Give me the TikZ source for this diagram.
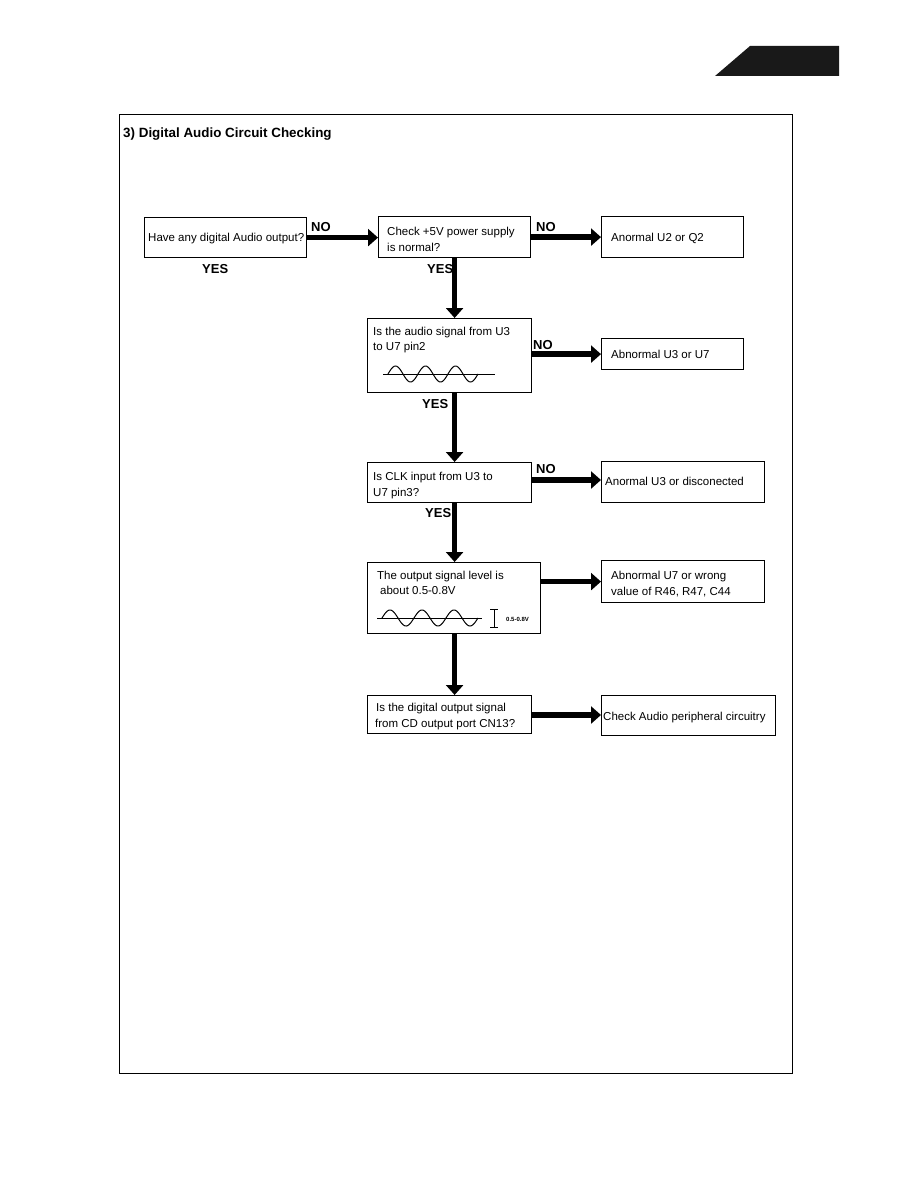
\documentclass[tikz,border=0pt]{standalone}
\usepackage{fontspec}
\setmainfont{Liberation Sans}
\usetikzlibrary{arrows.meta}
\begin{document}
\begin{tikzpicture}[x=1pt,y=-1pt,
  box/.style={draw,line width=1.2pt,inner sep=0pt,anchor=north west},
  txt/.style={anchor=base west,inner sep=0pt,font=\fontsize{11.5}{13}\selectfont},
  lbl/.style={anchor=base west,inner sep=0pt,font=\fontsize{13}{14}\selectfont\bfseries},
  arr/.style={line width=5.5pt,-{Triangle[length=10pt,width=17pt]}},
  wave/.style={line width=1pt}]
\useasboundingbox (0,0) rectangle (918,1188);
% tab
\fill[black!90] (715,76) -- (839,76) -- (839,46) -- (750,46) -- cycle;
% frame
\draw[line width=1pt] (119,115) rectangle (792,1073);
\node[anchor=base west,inner sep=0pt,font=\fontsize{13.4}{15}\selectfont\bfseries] (title) at (123,137) {3) Digital Audio Circuit Checking};
% boxes
\node[box,minimum width=162pt,minimum height=40pt] (b1) at (144,217) {};
\node[box,minimum width=152pt,minimum height=41pt] (b2) at (378,216) {};
\node[box,minimum width=142pt,minimum height=41pt] (r1) at (601,216) {};
\node[box,minimum width=164pt,minimum height=74pt] (b3) at (367,318) {};
\node[box,minimum width=142pt,minimum height=31pt] (r2) at (601,338) {};
\node[box,minimum width=164pt,minimum height=40pt] (b4) at (367,462) {};
\node[box,minimum width=163pt,minimum height=41pt] (r3) at (601,461) {};
\node[box,minimum width=173pt,minimum height=71pt] (b5) at (367,562) {};
\node[box,minimum width=163pt,minimum height=42pt] (r4) at (601,560) {};
\node[box,minimum width=164pt,minimum height=38pt] (b6) at (367,695) {};
\node[box,minimum width=174pt,minimum height=40pt] (r5) at (601,695) {};
% texts
\node[txt] (t1) at (148,241) {Have any digital Audio output?};
\node[txt] (t2a) at (387,235) {Check +5V power supply};
\node[txt] (t2b) at (387,251) {is normal?};
\node[txt] (tr1) at (611,241) {Anormal U2 or Q2};
\node[txt] (t3a) at (373,335) {Is the audio signal from U3};
\node[txt] (t3b) at (373,350) {to U7 pin2};
\node[txt] (tr2) at (611,358) {Abnormal U3 or U7};
\node[txt] (t4a) at (373,480) {Is CLK input from U3 to};
\node[txt] (t4b) at (373,496) {U7 pin3?};
\node[txt] (tr3) at (605,485) {Anormal U3 or disconected};
\node[txt] (t5a) at (377,579) {The output signal level is};
\node[txt] (t5b) at (380,594) {about 0.5-0.8V};
\node[txt] (tr4a) at (611,579) {Abnormal U7 or wrong};
\node[txt] (tr4b) at (611,595) {value of R46, R47, C44};
\node[txt] (t6a) at (376,711) {Is the digital output signal};
\node[txt] (t6b) at (375,727) {from CD output port CN13?};
\node[txt] (tr5) at (603,720) {Check Audio peripheral circuitry};
% YES / NO labels
\node[lbl] (no1) at (311,231) {NO};
\node[lbl] (yes1) at (202,273) {YES};
\node[lbl] (no2) at (536,231) {NO};
\node[lbl] (yes2) at (427,273) {YES};
\node[lbl] (no3) at (533,349) {NO};
\node[lbl] (yes3) at (422,408) {YES};
\node[lbl] (no4) at (536,473) {NO};
\node[lbl] (yes4) at (425,517) {YES};
% arrows
\draw[arr] (b1.east) -- (b2.west |- b1.east);
\draw[arr] (b2.east) -- (r1.west);
\draw[arr] (b2.south) -- (b2.south |- b3.north);
\draw[arr] (b3.east |- r2.west) -- (r2.west);
\draw[arr] (b3.south -| b2.south) -- (b2.south |- b4.north);
\draw[arr] (b4.east |- 0,480) -- (r3.west |- 0,480);
\draw[arr] (b4.south -| b2.south) -- (b2.south |- b5.north);
\draw[arr] (b5.east |- r4.west) -- (r4.west);
\draw[arr] (b5.south -| b2.south) -- (b2.south |- b6.north);
\draw[arr] (b6.east |- 0,715) -- (r5.west |- 0,715);
% waves
\draw[wave] (383,374) -- (495,374);
\draw[wave] plot[domain=0:1080,samples=120,smooth] ({388+\x/360*30},{374-8*sin(\x)});
\draw[wave] (377,618) -- (482,618);
\draw[wave] plot[domain=0:1080,samples=120,smooth] ({382+\x/360*32},{618-8*sin(\x)});
% amplitude marker
\draw[line width=1pt] (494,609) -- (494,627) (490,609) -- (498,609) (490,627) -- (498,627);
\node[anchor=base west,inner sep=0pt,font=\fontsize{6}{7}\selectfont\bfseries] (amp) at (506,621) {0.5-0.8V};
\end{tikzpicture}
\end{document}
